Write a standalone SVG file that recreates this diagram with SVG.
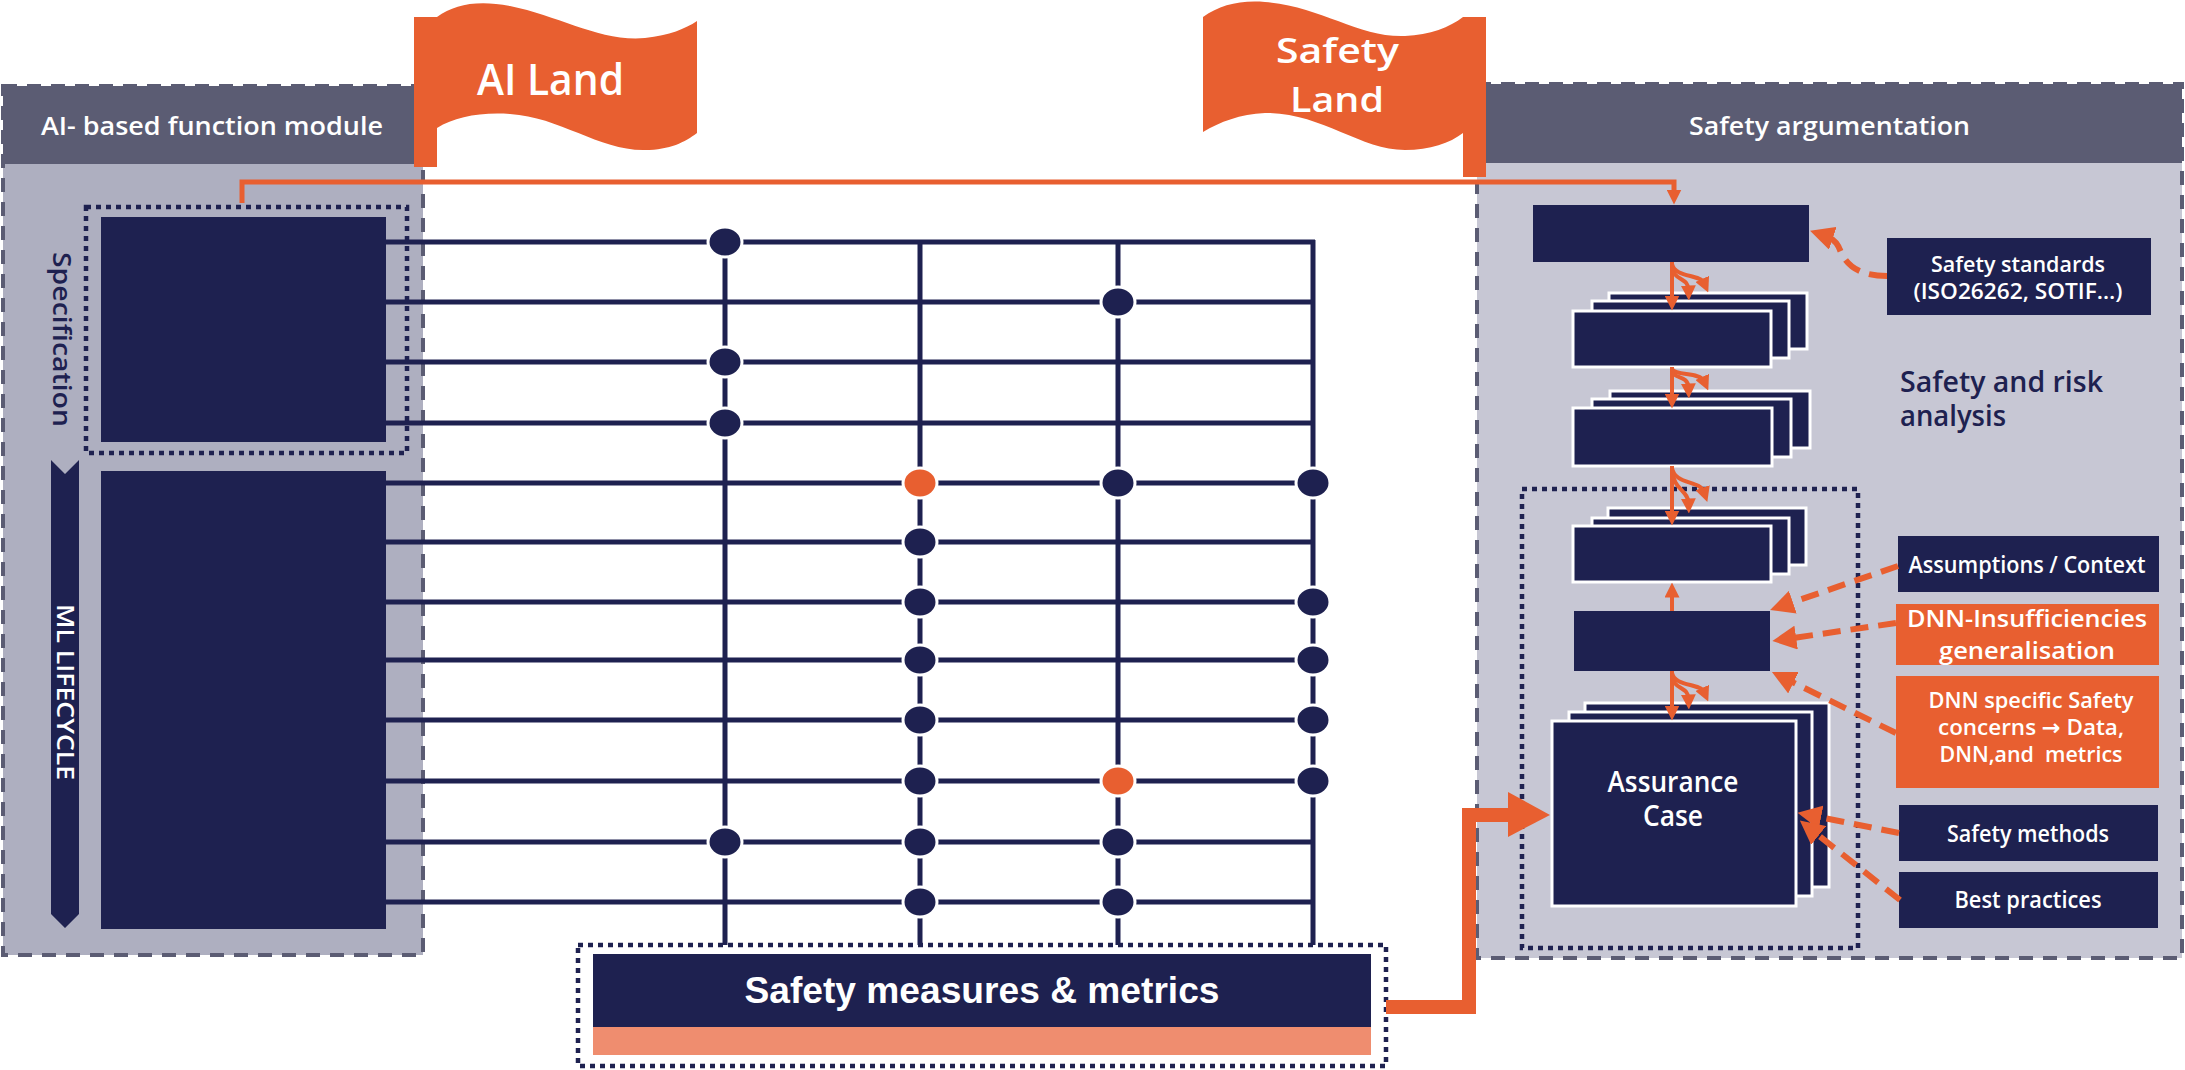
<svg xmlns="http://www.w3.org/2000/svg" width="2185" height="1070" viewBox="0 0 2185 1070">
<style>
.nv{fill:#1e2150}
.lay{fill:#1e2150;stroke:#ffffff;stroke-width:3}
.or{fill:#e85f30}
.hdr{fill:#5b5c73}
.dash{fill:none;stroke:#5b5c73;stroke-width:4;stroke-dasharray:14 10}
.dot{fill:none;stroke:#1e2150;stroke-width:4.5;stroke-dasharray:5 5}
.grid line{stroke:#1e2150;stroke-width:5}
.nd{fill:#1e2150;stroke:#ffffff;stroke-width:3}
.nd.o{fill:#e85f30}
.ol{fill:none;stroke:#e85f30;stroke-width:5}
.fan path{fill:none;stroke:#e85f30;stroke-width:4;marker-end:url(#fh)}
.da{fill:none;stroke:#e85f30;stroke-width:6;stroke-dasharray:18 10;marker-end:url(#dh)}
text{font-family:"Open Sans","Noto Sans","Liberation Sans",sans-serif;font-weight:600}
.w{fill:#ffffff}
.n{fill:#1e2150}
</style>
<defs>
<marker id="fh" viewBox="0 0 10 10" refX="3" refY="5" markerWidth="15" markerHeight="15" markerUnits="userSpaceOnUse" orient="auto"><path d="M0,0 L10,5 L0,10 z" fill="#e85f30"/></marker>
<marker id="dh" viewBox="0 0 10 10" refX="3" refY="5" markerWidth="24" markerHeight="24" markerUnits="userSpaceOnUse" orient="auto"><path d="M0,0 L10,5 L0,10 z" fill="#e85f30"/></marker>
</defs>
<rect width="2185" height="1070" fill="#ffffff"/>

<g id="ai-module">
<rect x="3" y="86" width="420" height="869" fill="#aeafc0"/>
<rect x="3" y="86" width="420" height="78" class="hdr"/>
<rect x="3" y="86" width="420" height="869" class="dash"/>
<text x="41" y="135" font-size="25" class="w" textLength="342" lengthAdjust="spacingAndGlyphs">AI- based function module</text>
</g>

<g id="safety-arg">
<rect x="1477" y="84" width="705" height="874" fill="#c7c7d4"/>
<rect x="1477" y="84" width="705" height="79" class="hdr"/>
<rect x="1477" y="84" width="705" height="874" class="dash"/>
<text x="1689" y="135" font-size="25" class="w" textLength="281" lengthAdjust="spacingAndGlyphs">Safety argumentation</text>
</g>

<g id="ai-land">
<rect x="414" y="17" width="23" height="150" class="or"/>
<path class="or" d="M437,17 C455,4 478,0 510,6 C560,16 600,42 645,38 C670,35 685,29 697,21 L697,133 C685,142 670,150 645,150 C600,151 560,117 510,114 C480,112 455,117 437,128 Z"/>
<text x="477" y="95" font-size="44" class="w" textLength="147" lengthAdjust="spacingAndGlyphs">AI Land</text>
</g>

<g id="safety-land">
<rect x="1463" y="17" width="23" height="160" class="or"/>
<path class="or" d="M1203,17 C1220,5 1240,0 1265,2 C1320,6 1360,38 1405,36 C1430,35 1450,27 1463,17 L1463,133 C1450,143 1430,150 1405,150 C1360,150 1320,112 1265,113 C1240,114 1220,122 1203,132 Z"/>
<text x="1276" y="63" font-size="35" class="w" textLength="123" lengthAdjust="spacingAndGlyphs">Safety</text>
<text x="1290" y="112" font-size="35" class="w" textLength="94" lengthAdjust="spacingAndGlyphs">Land</text>
</g>

<g id="specification">
<rect x="86" y="207" width="321" height="246" class="dot"/>
<rect x="101" y="217" width="285" height="225" class="nv"/>
<text transform="translate(53,252) rotate(90)" font-size="25" class="n" textLength="175" lengthAdjust="spacingAndGlyphs">Specification</text>
</g>

<g id="ml-lifecycle">
<polygon class="nv" points="51,460 65,474 79,460 79,914 65,928 51,914"/>
<text transform="translate(57,604) rotate(90)" font-size="23" font-weight="400" class="w" textLength="176" lengthAdjust="spacingAndGlyphs">ML LIFECYCLE</text>
<rect x="101" y="471" width="285" height="458" class="nv"/>
</g>

<g id="safety-measures">
<rect x="578" y="945" width="808" height="121" class="dot"/>
<rect x="593" y="954" width="778" height="73" class="nv"/>
<rect x="593" y="1027" width="778" height="28" fill="#ef8d6f"/>
<text x="982" y="1003" font-size="37" font-weight="bold" text-anchor="middle" class="w" style="font-family:'Liberation Sans',Arial,sans-serif" textLength="475" lengthAdjust="spacingAndGlyphs">Safety measures &amp; metrics</text>
</g>

<g id="top-box">
<rect x="1533" y="205" width="276" height="57" class="nv"/>
</g>

<g id="safety-standards">
<rect x="1887" y="238" width="264" height="77" class="nv"/>
<text x="2018" y="272" font-size="22" text-anchor="middle" class="w" textLength="174" lengthAdjust="spacingAndGlyphs">Safety standards</text>
<text x="2018" y="299" font-size="22" text-anchor="middle" class="w" textLength="209" lengthAdjust="spacingAndGlyphs">(ISO26262, SOTIF…)</text>
</g>

<g id="risk-label">
<text x="1900" y="392" font-size="28" class="n" textLength="203" lengthAdjust="spacingAndGlyphs">Safety and risk</text>
<text x="1900" y="426" font-size="28" class="n" textLength="106" lengthAdjust="spacingAndGlyphs">analysis</text>
</g>

<g id="stack-1">
<rect x="1609" y="293" width="198" height="56" class="lay"/>
<rect x="1592" y="301" width="197" height="57" class="lay"/>
<rect x="1573" y="311" width="198" height="56" class="lay"/>
</g>

<g id="stack-2">
<rect x="1610" y="391" width="200" height="57" class="lay"/>
<rect x="1592" y="399" width="199" height="58" class="lay"/>
<rect x="1573" y="408" width="199" height="58" class="lay"/>
</g>

<g id="argument-frame">
<rect x="1522" y="489" width="336" height="459" class="dot"/>
</g>

<g id="stack-3">
<rect x="1608" y="508" width="198" height="57" class="lay"/>
<rect x="1592" y="518" width="197" height="56" class="lay"/>
<rect x="1573" y="526" width="198" height="56" class="lay"/>
</g>

<g id="middle-box">
<rect x="1574" y="611" width="196" height="60" class="nv"/>
</g>

<g id="assurance-case">
<rect x="1585" y="703" width="244" height="184" class="lay"/>
<rect x="1569" y="712" width="243" height="184" class="lay"/>
<rect x="1552" y="721" width="244" height="185" class="lay"/>
<text x="1673" y="792" font-size="28" text-anchor="middle" class="w" textLength="131" lengthAdjust="spacingAndGlyphs">Assurance</text>
<text x="1673" y="826" font-size="28" text-anchor="middle" class="w" textLength="60" lengthAdjust="spacingAndGlyphs">Case</text>
</g>

<g id="assumptions">
<rect x="1898" y="536" width="261" height="56" class="nv"/>
<text x="2027" y="573" font-size="23" text-anchor="middle" class="w" textLength="237" lengthAdjust="spacingAndGlyphs">Assumptions / Context</text>
</g>

<g id="dnn-insufficiencies">
<rect x="1896" y="604" width="263" height="61" class="or"/>
<text x="2027" y="627" font-size="23" text-anchor="middle" class="w" textLength="240" lengthAdjust="spacingAndGlyphs">DNN-Insufficiencies</text>
<text x="2027" y="659" font-size="23" text-anchor="middle" class="w" textLength="176" lengthAdjust="spacingAndGlyphs">generalisation</text>
</g>

<g id="dnn-concerns">
<rect x="1896" y="676" width="263" height="112" class="or"/>
<text x="2031" y="708" font-size="22" text-anchor="middle" class="w" textLength="205" lengthAdjust="spacingAndGlyphs">DNN specific Safety</text>
<text x="2031" y="735" font-size="22" text-anchor="middle" class="w" textLength="186" lengthAdjust="spacingAndGlyphs">concerns <tspan style="font-family:'DejaVu Sans',sans-serif" font-weight="bold">→</tspan> Data,</text>
<text x="2031" y="762" font-size="22" text-anchor="middle" class="w" textLength="183" lengthAdjust="spacingAndGlyphs" style="white-space:pre">DNN,and  metrics</text>
</g>

<g id="safety-methods">
<rect x="1899" y="805" width="259" height="56" class="nv"/>
<text x="2028" y="842" font-size="23" text-anchor="middle" class="w" textLength="162" lengthAdjust="spacingAndGlyphs">Safety methods</text>
</g>

<g id="best-practices">
<rect x="1899" y="872" width="259" height="56" class="nv"/>
<text x="2028" y="908" font-size="23" text-anchor="middle" class="w" textLength="147" lengthAdjust="spacingAndGlyphs">Best practices</text>
</g>

<g id="connectors">
<g class="grid">
<line x1="386" y1="242" x2="1315" y2="242"/>
<line x1="386" y1="302" x2="1313" y2="302"/>
<line x1="386" y1="362" x2="1313" y2="362"/>
<line x1="386" y1="423" x2="1313" y2="423"/>
<line x1="386" y1="483" x2="1313" y2="483"/>
<line x1="386" y1="542" x2="1313" y2="542"/>
<line x1="386" y1="602" x2="1313" y2="602"/>
<line x1="386" y1="660" x2="1313" y2="660"/>
<line x1="386" y1="720" x2="1313" y2="720"/>
<line x1="386" y1="781" x2="1313" y2="781"/>
<line x1="386" y1="842" x2="1313" y2="842"/>
<line x1="386" y1="902" x2="1313" y2="902"/>
<line x1="725" y1="242" x2="725" y2="945"/>
<line x1="920" y1="240" x2="920" y2="945"/>
<line x1="1118" y1="240" x2="1118" y2="945"/>
<line x1="1313" y1="240" x2="1313" y2="945"/>
</g>
<g id="nodes">
<ellipse class="nd" cx="725" cy="242" rx="17" ry="15"/>
<ellipse class="nd" cx="1118" cy="302" rx="17" ry="15"/>
<ellipse class="nd" cx="725" cy="362" rx="17" ry="15"/>
<ellipse class="nd" cx="725" cy="423" rx="17" ry="15"/>
<ellipse class="nd o" cx="920" cy="483" rx="17" ry="15"/>
<ellipse class="nd" cx="1118" cy="483" rx="17" ry="15"/>
<ellipse class="nd" cx="1313" cy="483" rx="17" ry="15"/>
<ellipse class="nd" cx="920" cy="542" rx="17" ry="15"/>
<ellipse class="nd" cx="920" cy="602" rx="17" ry="15"/>
<ellipse class="nd" cx="1313" cy="602" rx="17" ry="15"/>
<ellipse class="nd" cx="920" cy="660" rx="17" ry="15"/>
<ellipse class="nd" cx="1313" cy="660" rx="17" ry="15"/>
<ellipse class="nd" cx="920" cy="720" rx="17" ry="15"/>
<ellipse class="nd" cx="1313" cy="720" rx="17" ry="15"/>
<ellipse class="nd" cx="920" cy="781" rx="17" ry="15"/>
<ellipse class="nd o" cx="1118" cy="781" rx="17" ry="15"/>
<ellipse class="nd" cx="1313" cy="781" rx="17" ry="15"/>
<ellipse class="nd" cx="725" cy="842" rx="17" ry="15"/>
<ellipse class="nd" cx="920" cy="842" rx="17" ry="15"/>
<ellipse class="nd" cx="1118" cy="842" rx="17" ry="15"/>
<ellipse class="nd" cx="920" cy="902" rx="17" ry="15"/>
<ellipse class="nd" cx="1118" cy="902" rx="17" ry="15"/>
</g>
<path class="ol" d="M242,203 L242,182 L1674,182 L1674,194" marker-end="url(#fh)"/>
<polyline fill="none" stroke="#e85f30" stroke-width="14" points="1386,1007 1469,1007 1469,815 1512,815"/>
<polygon class="or" points="1508,792 1550,815 1508,837"/>
<g class="fan">
<path d="M1672,262 L1672,300"/>
<path d="M1672,265 C1673,282 1688,276 1688.5,290"/>
<path d="M1672,264 C1675,278 1700,274 1704,283"/>
<path d="M1672,367 L1672,398"/>
<path d="M1672,370 C1673,380 1688,374 1688.5,388"/>
<path d="M1672,369 C1675,376 1700,372 1704,381"/>
<path d="M1672,466 L1672,515"/>
<path d="M1672,469 C1673,490 1688,490 1688.5,503"/>
<path d="M1672,468 C1675,485 1700,480 1704,492"/>
<path d="M1672,611 L1672,593"/>
<path d="M1672,671 L1672,710"/>
<path d="M1672,674 C1673,691 1688,685 1688.5,699"/>
<path d="M1672,673 C1675,687 1700,683 1704,692"/>
</g>
<path class="da" d="M1887,276 C1855,276 1845,262 1840,250 C1837,242 1832,238 1826,236"/>
<path class="da" d="M1898,566 L1786,604.5"/>
<path class="da" d="M1896,623 L1789,638.6"/>
<path class="da" d="M1896,733 L1787,679.5"/>
<path class="da" d="M1899,833 L1814,816"/>
<path class="da" d="M1900,900 L1813,831"/>
</g>
</svg>
